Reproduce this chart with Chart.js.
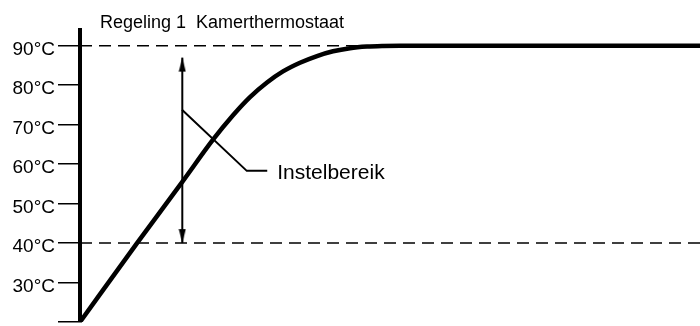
<!DOCTYPE html>
<html>
<head>
<meta charset="utf-8">
<script src="https://cdn.jsdelivr.net/npm/chart.js@4/dist/chart.umd.min.js"></script>
<style>
  html, body { margin: 0; padding: 0; background: #fff; }
  #chart { display: block; }
</style>
</head>
<body>
<canvas id="chart" width="700" height="326"></canvas>
<script>
// heating curve (time in % of width, temperature in °C)
const timeSteps = [0, 9.2, 16.5, 21.45, 24.68, 27.42, 30.16, 32.74, 35.48, 38.23, 40.81, 43.55, 46.29, 48.87, 51.61, 100];
const temperature = [20, 40, 55.5, 66.2, 72.4, 77.0, 80.7, 83.5, 85.7, 87.4, 88.6, 89.4, 89.8, 89.95, 90, 90];

// adjustment range
const rangeLimits = [40, 90];
const rangeArrowTime = 16.5;
const rangeArrowTemps = [40, 87];
const leaderTimes = [16.45, 26.9, 30.2];
const leaderTemps = [73.8, 58.3, 58.3];
const leaderLabel = 'Instelbereik';

const yTicks = [20, 25, 30, 35, 40, 45, 50, 55, 60, 65, 70, 75, 80, 85, 90, 94];
const yLabels = [30, 40, 50, 60, 70, 80, 90];
const title = 'Regeling 1  Kamerthermostaat';

const FONT = "'Liberation Sans', Arial, Helvetica, sans-serif";

function arrowHead(up) {
  const c = document.createElement('canvas');
  c.width = 8;
  c.height = 30;
  const g = c.getContext('2d');
  g.fillStyle = '#000';
  g.beginPath();
  if (up) {
    g.moveTo(4, 15); g.lineTo(7.5, 29); g.lineTo(0.5, 29);
  } else {
    g.moveTo(4, 15); g.lineTo(7.5, 1); g.lineTo(0.5, 1);
  }
  g.closePath();
  g.fill();
  return c;
}

const textPlugin = {
  id: 'texts',
  afterDraw(chart) {
    const { ctx, chartArea, scales } = chart;
    ctx.save();
    ctx.fillStyle = '#000';
    ctx.textBaseline = 'alphabetic';
    ctx.textAlign = 'left';
    ctx.font = '18px ' + FONT;
    ctx.fillText(title, chartArea.left + 20, 28);
    ctx.font = '21px ' + FONT;
    ctx.textBaseline = 'middle';
    const lx = scales.x.getPixelForValue(leaderTimes[leaderTimes.length - 1]) + 10;
    const ly = scales.y.getPixelForValue(leaderTemps[leaderTemps.length - 1]) + 2;
    ctx.fillText(leaderLabel, lx, ly);
    ctx.restore();
  }
};

const lineDataset = (xs, ys, extra) => Object.assign({
  data: xs.map((x, i) => ({ x, y: ys[i] })),
  borderColor: '#000',
  backgroundColor: '#000',
  pointRadius: 0,
  fill: false
}, extra);

new Chart(document.getElementById('chart'), {
  type: 'line',
  data: {
    datasets: [
      lineDataset([0, 100], [rangeLimits[1], rangeLimits[1]], { borderWidth: 1.5, borderDash: [12, 7] }),
      lineDataset([0, 100], [rangeLimits[0], rangeLimits[0]], { borderWidth: 1.5, borderDash: [12, 7] }),
      lineDataset(timeSteps, temperature, { borderWidth: 4.5, cubicInterpolationMode: 'monotone' }),
      lineDataset([rangeArrowTime, rangeArrowTime], rangeArrowTemps, {
        borderWidth: 2,
        clip: false,
        pointRadius: 6,
        pointStyle: [arrowHead(false), arrowHead(true)]
      }),
      lineDataset(leaderTimes, leaderTemps, { borderWidth: 2 })
    ]
  },
  options: {
    responsive: false,
    animation: false,
    events: [],
    layout: { autoPadding: false, padding: { top: 30, bottom: 4, left: 0, right: 0 } },
    plugins: {
      legend: { display: false },
      tooltip: { enabled: false },
      title: { display: false }
    },
    scales: {
      x: { type: 'linear', min: 0, max: 100, display: false },
      y: {
        type: 'linear',
        min: 20,
        max: 94,
        afterBuildTicks: s => { s.ticks = yTicks.map(v => ({ value: v })); },
        afterFit: s => {
          s.width = 80;
          s.paddingTop = 0;
          s.paddingBottom = 0;
        },
        grid: { drawOnChartArea: false, drawTicks: true, tickLength: 22, color: '#000', lineWidth: 1.5 },
        border: { display: true, color: '#000', width: 4 },
        ticks: {
          padding: 3,
          color: '#000',
          labelOffset: 4,
          font: { family: FONT, size: 19 },
          callback: v => yLabels.includes(v) ? v + '°C' : ''
        }
      }
    }
  },
  plugins: [textPlugin]
});
</script>
</body>
</html>
